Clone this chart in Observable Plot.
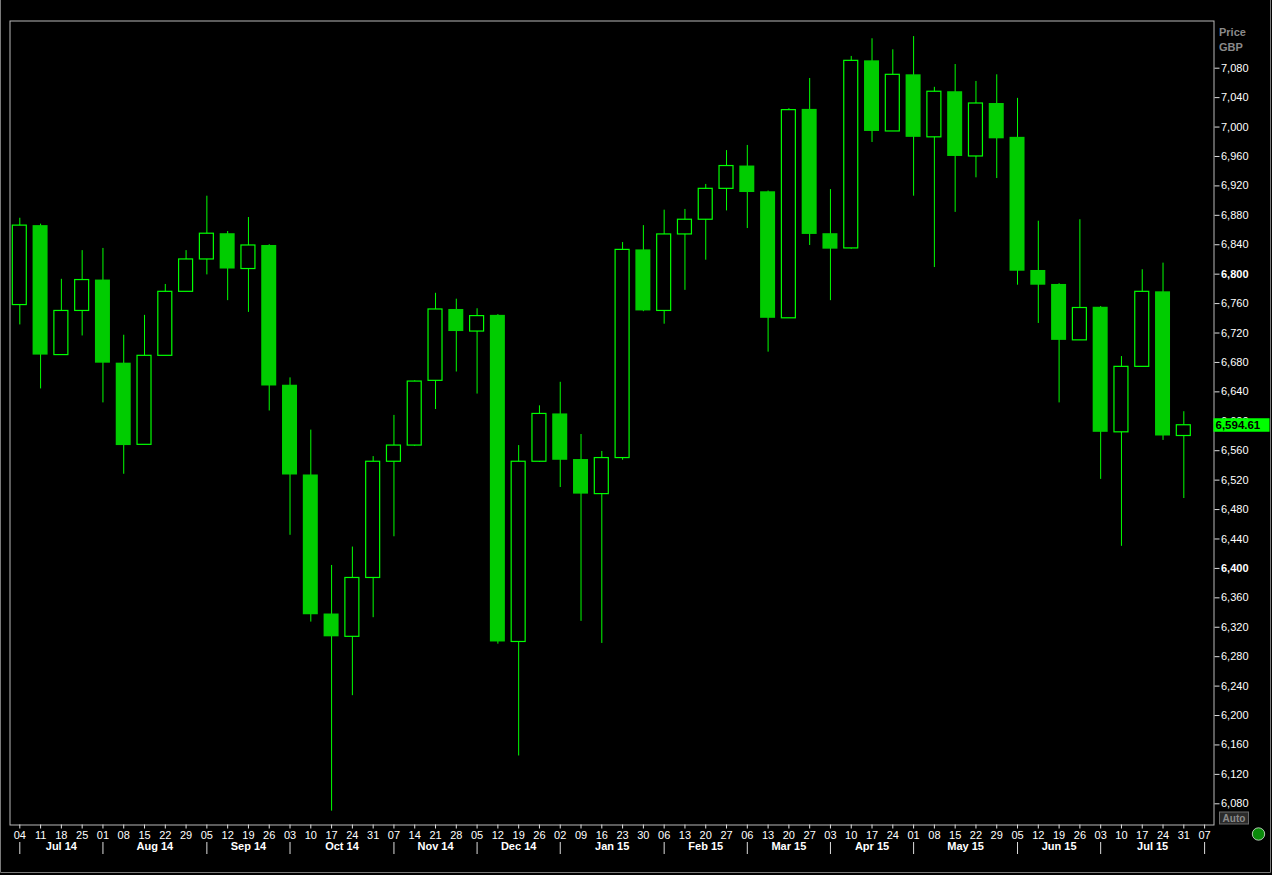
<!DOCTYPE html>
<html><head><meta charset="utf-8">
<script src="https://cdn.jsdelivr.net/npm/d3@7"></script>
<script src="https://cdn.jsdelivr.net/npm/@observablehq/plot@0.6"></script>
<style>
html,body{margin:0;padding:0;background:#000;overflow:hidden;}
#chart svg{display:block;}
</style></head><body><div id="chart"></div>
<script>
// ---- Data (weekly candles, GBP) ----
const weeks = ["2014-07-04","2014-07-11","2014-07-18","2014-07-25","2014-08-01","2014-08-08","2014-08-15","2014-08-22","2014-08-29",
  "2014-09-05","2014-09-12","2014-09-19","2014-09-26","2014-10-03","2014-10-10","2014-10-17","2014-10-24","2014-10-31",
  "2014-11-07","2014-11-14","2014-11-21","2014-11-28","2014-12-05","2014-12-12","2014-12-19","2014-12-26",
  "2015-01-02","2015-01-09","2015-01-16","2015-01-23","2015-01-30","2015-02-06","2015-02-13","2015-02-20","2015-02-27",
  "2015-03-06","2015-03-13","2015-03-20","2015-03-27","2015-04-03","2015-04-10","2015-04-17","2015-04-24",
  "2015-05-01","2015-05-08","2015-05-15","2015-05-22","2015-05-29","2015-06-05","2015-06-12","2015-06-19","2015-06-26",
  "2015-07-03","2015-07-10","2015-07-17","2015-07-24","2015-07-31","2015-08-07"];
const open  = [6758,6866,6690,6750,6792,6679,6568,6689,6776,6820,6855,6807,6839,6649,6527,6338,6307,6387,6545,6567,6655,6752,6722,6744,6300,6545,
  6610,6548,6501,6550,6833,6750,6854,6874,6916,6947,6912,6740,7024,6855,6835,7090,6994,7071,6986,7048,6960,7032,6986,6805,6786,6710,6755,6585,6674,6776,6580];
const high  = [6876,6868,6793,6832,6835,6717,6744,6786,6832,6906,6858,6877,6840,6659,6588,6404,6429,6552,6608,6655,6774,6766,6753,6745,6567,6621,
  6653,6582,6559,6843,6866,6887,6888,6922,6968,6975,6913,7025,7066,6915,7096,7120,7105,7123,7054,7085,7062,7071,7039,6872,6787,6874,6756,6688,6806,6815,6613];
const low   = [6731,6644,6690,6716,6625,6528,6568,6689,6776,6799,6764,6748,6614,6445,6327,6070,6227,6333,6443,6566,6616,6667,6637,6297,6145,6544,
  6510,6328,6298,6547,6749,6732,6778,6819,6886,6862,6694,6740,6839,6764,6834,6979,6994,6906,6809,6884,6931,6930,6785,6733,6625,6710,6521,6430,6674,6574,6495];
const close = [6866,6690,6750,6792,6679,6567,6689,6776,6820,6855,6807,6839,6648,6527,6337,6307,6387,6545,6567,6654,6752,6722,6743,6300,6545,6610,
  6547,6501,6550,6833,6750,6854,6874,6916,6947,6911,6740,7023,6854,6834,7090,6994,7071,6986,7048,6960,7032,6984,6804,6785,6710,6754,6585,6674,6776,6580,6594.61];
const monthStarts = ["2014-07-04","2014-08-01","2014-09-05","2014-10-03","2014-11-07","2014-12-05","2015-01-02",
  "2015-02-06","2015-03-06","2015-04-03","2015-05-01","2015-06-05","2015-07-03","2015-08-07"];
const monthLabels = ["Jul 14","Aug 14","Sep 14","Oct 14","Nov 14","Dec 14","Jan 15","Feb 15","Mar 15","Apr 15","May 15","Jun 15","Jul 15"];
const yTicks = [6080,6120,6160,6200,6240,6280,6320,6360,6400,6440,6480,6520,6560,6600,6640,6680,6720,6760,6800,6840,6880,6920,6960,7000,7040,7080];
const boldTicks = [6400, 6800];
const lastPrice = 6594.61;

// ---- Build tables ----
const parse = d3.utcParse("%Y-%m-%d");
const DAY = 864e5;
const weekDates = weeks.map(parse);
const candles = open.map((o, i) => ({date: weekDates[i], open: o, high: high[i], low: low[i], close: close[i], up: close[i] >= o}));
const upC = candles.filter(d => d.up), downC = candles.filter(d => !d.up);
const msDates = monthStarts.map(parse);
const monthMids = monthLabels.map((label, i) => ({label, date: new Date((+msDates[i] + +msDates[i + 1]) / 2)}));

const FONT = "Liberation Sans, Arial, sans-serif";
const GREEN = "#00ff00", FILL = "#00cc00";

function extras(index, scales, values, dims) {
  const g = d3.create("svg:g").attr("text-anchor", "start");
  const xr = dims.width - dims.marginRight;
  const yb = dims.height - dims.marginBottom;
  const yv = scales.y(lastPrice);
  g.append("rect").attr("x", xr).attr("y", yv - 6.5).attr("width", 56).attr("height", 13.5).attr("fill", GREEN);
  g.append("text").attr("x", xr + 2).attr("y", yv).attr("dy", "0.36em").attr("text-anchor", "start")
    .attr("font-family", FONT).attr("font-size", 11.5).attr("font-weight", "bold").attr("fill", "#000")
    .text(d3.format(",.2f")(lastPrice));
  // "Auto" button
  g.append("rect").attr("x", xr + 6).attr("y", yb - 12.5).attr("width", 29).attr("height", 12)
    .attr("fill", "#2a2a2a").attr("stroke", "#6a6a6a");
  g.append("text").attr("x", xr + 20.5).attr("y", yb - 6.3).attr("dy", "0.36em").attr("text-anchor", "middle")
    .attr("font-family", FONT).attr("font-size", 10).attr("font-weight", "bold").attr("fill", "#8a8a8a").text("Auto");
  // status dot
  g.append("circle").attr("cx", xr + 45).attr("cy", yb + 9.5).attr("r", 6.2)
    .attr("fill", "#0a8a0a").attr("stroke", "#d8e8d8").attr("stroke-width", 0.8);
  // window border
  g.append("path").attr("d", `M0.5,0 V${dims.height - 2.5} H${dims.width - 1.5} V0`)
    .attr("fill", "none").attr("stroke", "#7a7a7a");
  return g.node();
}

const chart = Plot.plot({
  width: 1272,
  height: 875,
  marginLeft: 9.5,
  marginRight: 58.5,
  marginTop: 20.5,
  marginBottom: 50.5,
  style: {background: "#000", color: "#fff", fontFamily: FONT, fontSize: "11px"},
  x: {type: "utc", domain: [weekDates[0], weekDates[weekDates.length - 1]], range: [19.3, 1204.1], axis: null},
  y: {domain: [6080, 7080], range: [803.3, 67.7], axis: null},
  marks: [
    Plot.frame({stroke: "#b8b8b8"}),
    // wicks
    Plot.ruleX(candles, {x: "date", y1: "low", y2: "high", stroke: GREEN, strokeWidth: 1}),
    // down (filled) bodies
    Plot.rect(downC, {x1: d => new Date(+d.date - 3.5 * DAY), x2: d => new Date(+d.date + 3.5 * DAY),
      y1: "open", y2: "close", insetLeft: 2.9, insetRight: 2.9, fill: FILL}),
    // up (hollow) bodies
    Plot.rect(upC, {x1: d => new Date(+d.date - 3.5 * DAY), x2: d => new Date(+d.date + 3.5 * DAY),
      y1: "open", y2: "close", insetLeft: 3.4, insetRight: 3.4, fill: "#000", stroke: GREEN, strokeWidth: 1.2}),
    // y axis (right)
    Plot.axisY(yTicks.filter(t => !boldTicks.includes(t)), {anchor: "right", tickSize: 5, tickPadding: 2,
      tickFormat: d3.format(","), fontSize: 11, label: null, stroke: "#ddd", fill: "#fff"}),
    Plot.axisY(boldTicks, {anchor: "right", tickSize: 5, tickPadding: 2, tickFormat: d3.format(","),
      fontSize: 11, fontWeight: "bold", label: null, stroke: "#ddd", fill: "#fff"}),
    Plot.text(["Price"], {frameAnchor: "top-right", dx: 5, dy: 7.5, textAnchor: "start", fill: "#8a8a8a", fontWeight: "bold", fontSize: 11}),
    Plot.text(["GBP"], {frameAnchor: "top-right", dx: 5, dy: 22.5, textAnchor: "start", fill: "#8a8a8a", fontWeight: "bold", fontSize: 11}),
    // x axis: week days
    Plot.axisX(weekDates, {anchor: "bottom", tickSize: 4, tickPadding: 2, tickFormat: d3.utcFormat("%d"),
      fontSize: 11, label: null, stroke: "#ddd", fill: "#fff"}),
    // month separators
    Plot.axisX(msDates, {anchor: "bottom", tickSize: 12, tickFormat: () => "", dy: 17.5, label: null, stroke: "#ddd"}),
    // month labels
    Plot.text(monthMids, {x: "date", text: "label", frameAnchor: "bottom", dy: 25, fontWeight: "bold", fontSize: 11, fill: "#fff"}),
    extras
  ]
});
document.getElementById("chart").append(chart);
</script>
</body></html>
